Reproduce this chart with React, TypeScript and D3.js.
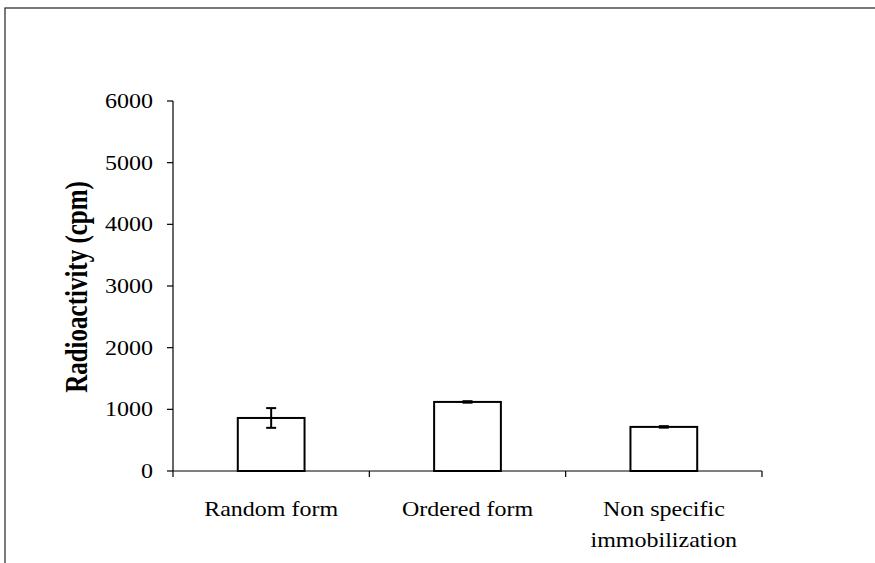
import React from "react";
import * as d3 from "d3";

const categories: string[][] = [["Random form"], ["Ordered form"], ["Non specific", "immobilization"]];
const means: number[] = [860, 1120, 715];
const errors: number[] = [160, 12, 12];
const yTicks: number[] = [0, 1000, 2000, 3000, 4000, 5000, 6000];

export default function App() {
  const W = 875, H = 563;
  const left = 173, right = 762, top = 101, bottom = 471;
  const x = d3.scaleBand<number>().domain(categories.map((_, i) => i)).range([left, right]).paddingInner(0.66).paddingOuter(0.33);
  const y = d3.scaleLinear().domain([0, 6000]).range([bottom, top]);
  const step = (right - left) / categories.length;
  const font = "'Liberation Serif', 'Times New Roman', serif";
  const sx = 1.2; // text is drawn slightly wide
  return (
    <svg width={W} height={H} style={{ position: "absolute", left: 0, top: 0, background: "#fff" }}>
      <rect x={5} y={8} width={W} height={H} fill="none" stroke="#222" strokeWidth={1.2} />
      {/* y axis */}
      <line x1={left} x2={left} y1={top} y2={bottom} stroke="#000" strokeWidth={1.2} />
      {yTicks.map((t) => (
        <g key={t}>
          <line x1={left - 6} x2={left} y1={y(t)} y2={y(t)} stroke="#000" strokeWidth={1.2} />
          <g transform={`translate(${left - 20},${y(t)}) scale(${sx},1)`}>
            <text dy="0.35em" textAnchor="end" fontFamily={font} fontSize={20}>{t}</text>
          </g>
        </g>
      ))}
      <g transform={`translate(87,${(top + bottom) / 2 + 1}) scale(1.25,1) rotate(-90)`}>
        <text textAnchor="middle" fontFamily={font} fontSize={25} fontWeight="bold">Radioactivity (cpm)</text>
      </g>
      {/* x axis */}
      <line x1={left} x2={right} y1={bottom} y2={bottom} stroke="#000" strokeWidth={1.2} />
      {d3.range(categories.length + 1).map((i) => (
        <line key={i} x1={left + i * step} x2={left + i * step} y1={bottom} y2={bottom + 6} stroke="#000" strokeWidth={1.2} />
      ))}
      {categories.map((lines, i) => (
        <g key={i} transform={`translate(${left + (i + 0.5) * step},516) scale(${sx},1)`}>
          {lines.map((l, j) => (
            <text key={j} x={0} y={j * 31} textAnchor="middle" fontFamily={font} fontSize={20}>{l}</text>
          ))}
        </g>
      ))}
      {/* bars */}
      {means.map((v, i) => {
        const bx = x(i)!;
        const cx = bx + x.bandwidth() / 2;
        return (
          <g key={i}>
            <rect x={bx} y={y(v)} width={x.bandwidth()} height={bottom - y(v)} fill="#fff" stroke="#000" strokeWidth={2} />
            <line x1={cx} x2={cx} y1={y(v + errors[i])} y2={y(v - errors[i])} stroke="#000" strokeWidth={2} />
            <line x1={cx - 5} x2={cx + 5} y1={y(v + errors[i])} y2={y(v + errors[i])} stroke="#000" strokeWidth={2} />
            <line x1={cx - 5} x2={cx + 5} y1={y(v - errors[i])} y2={y(v - errors[i])} stroke="#000" strokeWidth={2} />
          </g>
        );
      })}
    </svg>
  );
}
